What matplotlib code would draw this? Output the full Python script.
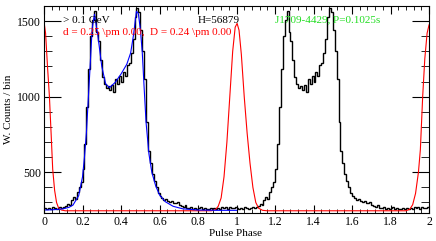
import numpy as np
import matplotlib.pyplot as plt
from matplotlib.ticker import MultipleLocator

plt.rcParams['font.family'] = ['Liberation Serif', 'DejaVu Serif']

# one pulse cycle, 100 bins from phase 0 to 1 (plot shows it twice)
cycle_counts = [
    262, 258, 266, 260, 270, 264, 257, 263, 272, 266,
    268, 275, 290, 283, 318, 335, 322, 368, 402, 438,
    520, 690, 930, 1180, 1400, 1510, 1565, 1430, 1370, 1240,
    1130, 1085, 1060, 1070, 1045, 1080, 1030, 1115, 1085, 1140,
    1100, 1165, 1140, 1210, 1225, 1290, 1380, 1530, 1590, 1560,
    1440, 1300, 1120, 830, 640, 560, 490, 440, 400, 365,
    345, 330, 318, 322, 310, 305, 312, 298, 295, 302,
    285, 278, 270, 280, 266, 262, 268, 260, 265, 258,
    263, 270, 258, 262, 255, 260, 264, 256, 262, 258,
    266, 260, 270, 262, 268, 258, 272, 265, 262, 270,
]
counts = cycle_counts + cycle_counts

# fitted two-peak model (blue), first cycle only
blue_phase = [0.0, 0.05, 0.10, 0.13, 0.15, 0.18, 0.20, 0.21, 0.22, 0.235,
              0.25, 0.262, 0.28, 0.30, 0.32, 0.34, 0.37, 0.40, 0.43, 0.45,
              0.465, 0.48, 0.49, 0.50, 0.51, 0.52, 0.53, 0.545, 0.56, 0.58, 0.60,
              0.63, 0.67, 0.72, 0.80, 0.90, 1.0]
blue_counts = [250, 252, 258, 268, 282, 345, 470, 600, 760, 1100,
               1450, 1545, 1400, 1200, 1085, 1060, 1095, 1150, 1215, 1290,
               1410, 1565, 1550, 1450, 1300, 1060, 830, 620, 500, 410, 350,
               305, 275, 258, 250, 248, 248]

# red reference curve
red_phase = [0.0, 0.008, 0.018, 0.028, 0.037, 0.045, 0.055, 0.065, 0.075, 0.09, 0.11,
             0.87, 0.89, 0.905, 0.92, 0.935, 0.95, 0.965, 0.98, 0.993, 1.003,
             1.013, 1.025, 1.04, 1.055, 1.07, 1.085, 1.10, 1.115, 1.135, 1.16,
             1.88, 1.90, 1.915, 1.93, 1.945, 1.955, 1.967, 1.978, 1.99, 2.0]
red_counts = [1495, 1420, 1200, 1000, 750, 520, 380, 300, 265, 250, 245,
              245, 252, 275, 330, 470, 700, 1000, 1300, 1460, 1485,
              1440, 1280, 1000, 760, 560, 400, 300, 262, 248, 245,
              245, 255, 285, 360, 500, 650, 1000, 1250, 1420, 1475]

edges = np.linspace(0, 2, len(counts) + 1)

fig = plt.figure(figsize=(4.36, 2.41), dpi=100)
ax = fig.add_axes([0.101, 0.116, 0.883, 0.859])

ax.plot(red_phase, red_counts, color='#ff0000', lw=0.8)
ax.stairs(counts, edges, baseline=None, color='black', lw=1.0)
ax.plot(blue_phase, blue_counts, color='#0000ff', lw=0.8)

ax.set_xlim(0, 2)
ax.set_ylim(230, 1600)
ax.xaxis.set_minor_locator(MultipleLocator(0.04))
ax.yaxis.set_major_locator(MultipleLocator(500))
ax.yaxis.set_minor_locator(MultipleLocator(100))
ax.set_xticks([0, 0.2, 0.4, 0.6, 0.8, 1, 1.2, 1.4, 1.6, 1.8, 2])
ax.set_xticklabels(['0', '0.2', '0.4', '0.6', '0.8', '1', '1.2', '1.4', '1.6', '1.8', '2'])

ax.tick_params(which='both', direction='in', top=True, right=True, labelsize=8.5, pad=2)
ax.tick_params(axis='x', which='major', length=6)
ax.tick_params(axis='x', which='minor', length=3)
ax.tick_params(axis='y', which='major', length=12)
ax.tick_params(axis='y', which='minor', length=6)
for s in ax.spines.values():
    s.set_linewidth(0.8)

fig.text(0.54, 0.033, 'Pulse Phase', ha='center', va='center', fontsize=8)
fig.text(0.02, 0.545, 'W. Counts / bin', ha='center', va='center', rotation=90, fontsize=8)

fig.text(0.144, 0.917, '> 0.1 GeV', ha='left', va='center', fontsize=8)
fig.text(0.144, 0.867, r'd = 0.25 \pm 0.00,  D = 0.24 \pm 0.00', ha='left', va='center',
         fontsize=8, color='#ff0000')
fig.text(0.454, 0.917, 'H=56879', ha='left', va='center', fontsize=8)
fig.text(0.631, 0.917, 'J1709-4429, P=0.1025s', ha='left', va='center', fontsize=8,
         color='#22dd22')

fig.savefig('out.png', dpi=100)
